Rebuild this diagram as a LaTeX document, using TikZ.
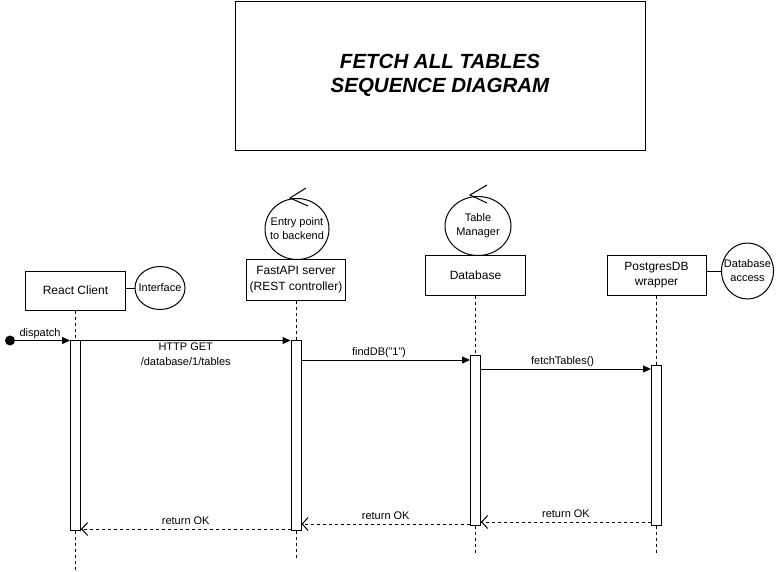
\documentclass[tikz,border=0pt]{standalone}
\usepackage{fontspec}
\setmainfont{Liberation Sans}
\usetikzlibrary{shapes.geometric,arrows.meta}

\tikzset{
  lifebox/.style={draw, minimum width=100pt, minimum height=40pt, inner sep=0pt, align=center, font=\fontsize{12}{15.5}\selectfont},
  objcirc/.style={ellipse, draw, inner sep=-8pt, align=center, font=\fontsize{11}{14}\selectfont},
  actbar/.style={draw, fill=white, minimum width=10pt, inner sep=0pt},
  lifeline/.style={dash pattern=on 3pt off 3pt},
  msg/.style={-{Triangle[length=8pt,width=7pt]}},
  ret/.style={dash pattern=on 3pt off 3pt, -{Straight Barb[length=6pt,width=13pt]}},
  lbl/.style={inner sep=0pt, text height=8pt, text depth=2.5pt, font=\fontsize{11}{14}\selectfont},
}

\begin{document}
\begin{tikzpicture}[x=1pt, y=-1pt, line width=1pt]
            \useasboundingbox (0,0) rectangle (777,571);

            % title
            \node[draw, minimum width=410pt, minimum height=149pt, align=center,
                  font=\fontsize{20.5}{24}\selectfont\bfseries\itshape] (title) at (440,75.5)
                  {FETCH ALL TABLES\\SEQUENCE DIAGRAM};

            % objects
            \node[lifebox, minimum height=39pt] (rc) at (75.5,290.5) {React Client};
            \node[objcirc, minimum width=50pt, minimum height=43pt] (iface) at (160,288) {Interface};
            \draw (rc.east |- iface.west) -- (iface.west);

            \node[lifebox, minimum width=99pt, minimum height=41pt] (fast) at (296,279.5) {FastAPI server\\(REST controller)};
            \node[objcirc, minimum width=64pt, minimum height=61pt] (entry) at (297,229) {Entry point\\to backend};
            \draw (entry.north) ++(9,-10) -- ++(-16,10) -- ++(18,8);

            \node[lifebox] (db) at (475.5,275) {Database};
            \node[objcirc, minimum width=66pt, minimum height=59pt] (tman) at (478,226) {Table\\Manager};
            \draw (tman.north) ++(9,-11) -- ++(-17,10) -- ++(17,8);

            \node[lifebox, minimum width=99pt] (pg) at (656.5,275) {PostgresDB\\wrapper};
            \node[objcirc, minimum width=52pt, minimum height=56pt] (dbacc) at (747.5,271) {Database\\access};
            \draw (pg.east |- dbacc.west) -- (dbacc.west);

            % activations
            \node[actbar, minimum height=190pt] (actR) at (75.5,435) {};
            \node[actbar, minimum height=190pt] (actF) at (296,435) {};
            \node[actbar, minimum height=170pt] (actD) at (475.5,440) {};
            \node[actbar, minimum height=160pt] (actP) at (656.5,445) {};

            \coordinate (endR) at (75.5,570);
            \coordinate (endF) at (296,560);
            \coordinate (endD) at (475.5,555);
            \coordinate (endP) at (656.5,555);

            % lifelines
            \draw[lifeline] (rc.south) -- (actR.north);
            \draw[lifeline] (actR.south) -- (endR);
            \draw[lifeline] (fast.south) -- (actF.north);
            \draw[lifeline] (actF.south) -- (endF);
            \draw[lifeline] (db.south) -- (actD.north);
            \draw[lifeline] (actD.south) -- (endD);
            \draw[lifeline] (pg.south) -- (actP.north);
            \draw[lifeline] (actP.south) -- (endP);

            % messages
            \node[circle, fill, minimum size=10pt, inner sep=0pt] (start) at (10,340.5) {};
            \draw[msg] (start.center) -- (start -| actR.west)
                node[lbl, midway, above=1.5pt] (lblDispatch) {dispatch};
            \draw[msg] (actR.east |- start) -- (actF.west |- start)
                node[midway, below=2pt, inner sep=0pt, align=center, font=\fontsize{11}{15}\selectfont] (lblGet) {HTTP GET\\/database/1/tables};
            \draw[msg] (actF.east |- 0,360) -- (actD.west |- 0,360)
                node[lbl, pos=0.46, above=1.5pt] (lblFind) {findDB("1")};
            \draw[msg] (actD.east |- 0,369) -- (actP.west |- 0,369)
                node[lbl, pos=0.48, above=1.5pt] (lblFetch) {fetchTables()};

            \draw[ret] (actP.west |- 0,522) -- (actD.east |- 0,522)
                node[lbl, midway, above=1.5pt] (lblRet3) {return OK};
            \draw[ret] (actD.west |- 0,524) -- (actF.east |- 0,524)
                node[lbl, midway, above=1.5pt] (lblRet2) {return OK};
            \draw[ret] (actF.west |- 0,529) -- (actR.east |- 0,529)
                node[lbl, midway, above=1.5pt] (lblRet1) {return OK};
\end{tikzpicture}
\end{document}
